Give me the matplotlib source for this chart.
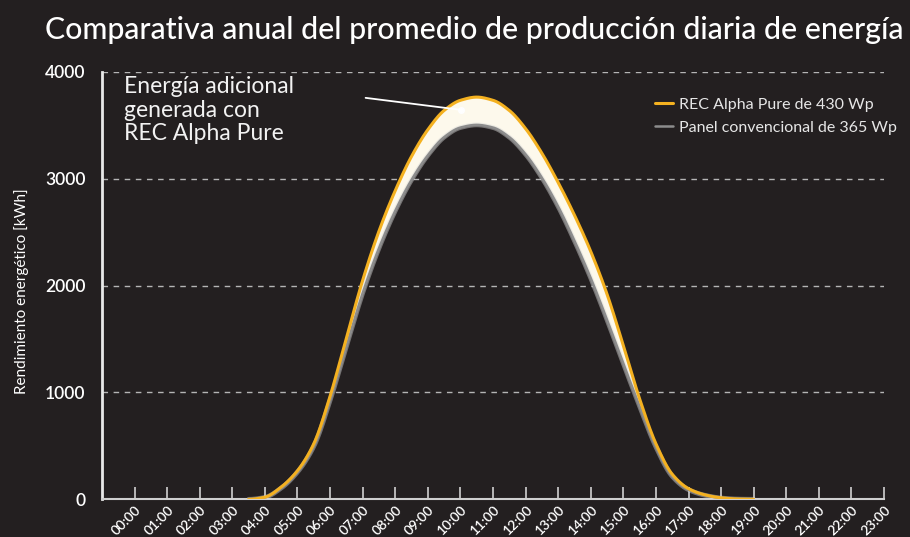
import numpy as np
import matplotlib
matplotlib.use("Agg")
import matplotlib.pyplot as plt

# ---------------- data ----------------
hours = [3.5, 4.0, 4.5, 5.0, 5.5, 6.0, 6.5, 7.0, 7.5, 8.0, 8.5, 9.0, 9.5, 10.0,
         10.5, 11.0, 11.5, 12.0, 12.5, 13.0, 13.5, 14.0, 14.5, 15.0, 15.5, 16.0,
         16.5, 17.0, 17.5, 18.0, 18.5, 19.0]
rec_alpha = [0, 20, 115, 268, 520, 965, 1510, 2050, 2510, 2890, 3210, 3460, 3640, 3735,
             3765, 3735, 3640, 3470, 3240, 2965, 2660, 2320, 1920, 1440, 940, 520,
             235, 100, 42, 14, 3, 0]
conventional = [0, 18, 105, 255, 495, 925, 1430, 1930, 2350, 2700, 2990, 3220, 3390, 3480,
                3505, 3480, 3390, 3230, 3010, 2740, 2420, 2070, 1680, 1270, 870, 490,
                215, 90, 38, 12, 2, 0]
tick_hours = list(range(24))
tick_labels = [f"{h:02d}:00" for h in tick_hours]
y_ticks = [0, 1000, 2000, 3000, 4000]

title = "Comparativa anual del promedio de producción diaria de energía"
ylabel = "Rendimiento energético [kWh]"
legend_labels = ["REC Alpha Pure de 430 Wp", "Panel convencional de 365 Wp"]
annotation = "Energía adicional\ngenerada con\nREC Alpha Pure"


def pchip(x, y, xs):
    """Monotone cubic curve through the given points (for smooth drawing)."""
    x = np.asarray(x, float)
    y = np.asarray(y, float)
    h = np.diff(x)
    d = np.diff(y) / h
    m = np.zeros_like(y)
    for k in range(1, len(x) - 1):
        if d[k - 1] * d[k] > 0:
            w1 = 2 * h[k] + h[k - 1]
            w2 = h[k] + 2 * h[k - 1]
            m[k] = (w1 + w2) / (w1 / d[k - 1] + w2 / d[k])
    idx = np.clip(np.searchsorted(x, xs) - 1, 0, len(x) - 2)
    t = (xs - x[idx]) / h[idx]
    h00 = 2 * t**3 - 3 * t**2 + 1
    h10 = t**3 - 2 * t**2 + t
    h01 = -2 * t**3 + 3 * t**2
    h11 = t**3 - t**2
    return h00 * y[idx] + h10 * h[idx] * m[idx] + h01 * y[idx + 1] + h11 * h[idx] * m[idx + 1]


# ---------------- style ----------------
BG = "#231f20"
YELLOW = "#f4b120"
GRAY = "#8c8c8c"
FILL = "#fdf9ec"
FG = "#ffffff"
FONT = ["Lato", "DejaVu Sans"]

fig = plt.figure(figsize=(9.10, 5.37), dpi=100, facecolor=BG)
ax = fig.add_axes([102 / 910, 1 - 499.3 / 537, (884 - 102) / 910, (499.3 - 72) / 537])
ax.set_facecolor(BG)

xs = np.linspace(hours[0], hours[-1], 600)
rec_s = pchip(hours, rec_alpha, xs)
conv_s = pchip(hours, conventional, xs)

ax.fill_between(xs, conv_s, rec_s, color=FILL, lw=0, zorder=2)
ax.plot(xs, conv_s, color="#d8d8d8", lw=3.4, zorder=3, solid_capstyle="round", alpha=0.45)
l2, = ax.plot(xs, conv_s, color=GRAY, lw=1.8, zorder=3, solid_capstyle="round")
l1, = ax.plot(xs, rec_s, color=YELLOW, lw=2.2, zorder=4, solid_capstyle="round")

ax.set_xlim(-1, 23)
ax.set_ylim(0, 4000)

for v in y_ticks[1:]:
    ax.axhline(v, color="#b5b5b5", lw=1.0, ls=(0, (4, 4)), zorder=1)

for s in ["top", "right"]:
    ax.spines[s].set_visible(False)
ax.spines["left"].set_color("#e8e8e8")
ax.spines["bottom"].set_color("#cfcfcf")
ax.spines["left"].set_linewidth(2.0)
ax.spines["bottom"].set_linewidth(1.5)

ax.set_yticks(y_ticks)
ax.set_yticklabels([str(v) for v in y_ticks], family=FONT, fontsize=12.5, color=FG, weight="semibold")
ax.tick_params(axis="y", length=0, pad=12)

ax.set_xticks(tick_hours)
ax.set_xticklabels(tick_labels, family=FONT, fontsize=10, color=FG, rotation=45,
                   ha="right", va="top", rotation_mode="anchor", weight="semibold")
ax.tick_params(axis="x", direction="in", length=9, width=1.2, color="#d0d0d0", pad=3)

# title fit to width
t = fig.text(45 / 910, 1 - 30 / 537, title, family=FONT, fontsize=19, color=FG,
             ha="left", va="center", weight="medium")
fig.canvas.draw()
r = fig.canvas.get_renderer()
w = t.get_window_extent(r).width
t.set_fontsize(19 * 857 / w)

fig.text(22 / 910, 1 - 291 / 537, ylabel, family=FONT, fontsize=11, color=FG,
         rotation=90, ha="center", va="center")

leg = ax.legend([l1, l2], legend_labels, loc="upper right", bbox_to_anchor=(1.025, 0.955),
                frameon=False, prop={"family": FONT, "size": 11.5},
                labelcolor="#e6e6e6", handlelength=1.1, handletextpad=0.4,
                labelspacing=0.55, borderaxespad=0)

ax.text(-0.33, 3960, annotation, family=FONT, fontsize=16.5, color="#f2f2f2",
        ha="left", va="top", linespacing=1.15, zorder=6)
ax.annotate("", xy=(10.03, 3645), xytext=(7.09, 3758),
            arrowprops=dict(arrowstyle="-", color="#ffffff", lw=1.3,
                            shrinkA=0, shrinkB=0), zorder=6)
ax.plot([10.03], [3645], marker="o", ms=4, color="#ffffff", zorder=6)

fig.savefig("out.png", dpi=100, facecolor=BG)
